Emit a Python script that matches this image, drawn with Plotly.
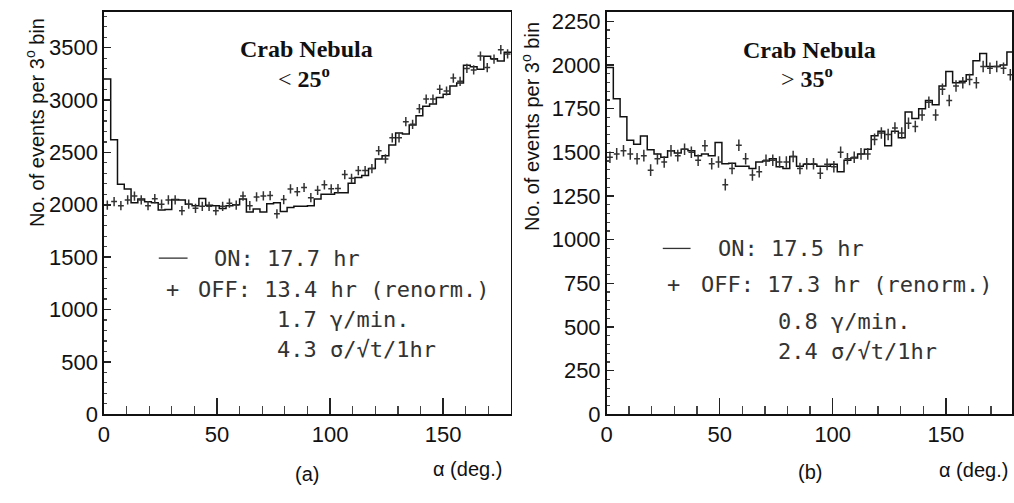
import numpy as np
import plotly.graph_objects as go

# ---------------- data ----------------
bin_width = 3
bin_edges = list(range(0, 181, bin_width))

on_a = [3200, 2620, 2195, 2150, 2020, 2055, 2030, 2020, 1950, 1955,
        2050, 2045, 2005, 1990, 2060, 1995, 1990, 1965, 1990, 2000,
        2055, 1930, 1960, 1930, 2010, 2020, 1935, 1975, 1985, 1985,
        1990, 2055, 2100, 2100, 2115, 2115, 2205, 2260, 2280, 2346,
        2438, 2469, 2571, 2685, 2676, 2762, 2849, 2941, 2963, 3025,
        3056, 3133, 3163, 3333, 3318, 3293, 3417, 3395, 3373, 3457]

off_a = [1997, 2031, 1991, 2046, 2083, 2046, 1991, 2058, 2006, 2046,
         2046, 1944, 2006, 1966, 1985, 1985, 1944, 1985, 2015, 1997,
         2083, 1991, 2075, 2085, 2088, 1914, 2050, 2151, 2125, 2165,
         2068, 2138, 2191, 2152, 2155, 2288, 2253, 2327, 2327, 2346,
         2516, 2438, 2639, 2639, 2793, 2768, 2917, 3009, 3009, 3102,
         3086, 3210, 3179, 3302, 3287, 3420, 3310, 3390, 3480, 3440]

on_b = [1985, 1806, 1704, 1569, 1546, 1593, 1515, 1491, 1472, 1509,
        1496, 1517, 1509, 1481, 1491, 1481, 1556, 1435, 1437, 1420,
        1420, 1407, 1444, 1450, 1463, 1417, 1407, 1476, 1420, 1431,
        1431, 1420, 1420, 1431, 1389, 1454, 1468, 1491, 1518, 1595,
        1620, 1537, 1620, 1583, 1731, 1694, 1750, 1796, 1772, 1880,
        1963, 1898, 1907, 1944, 2024, 2065, 1991, 1991, 2000, 2074]

off_b = [1472, 1491, 1509, 1491, 1463, 1481, 1398, 1463, 1444, 1509,
         1481, 1518, 1500, 1454, 1537, 1435, 1444, 1315, 1407, 1540,
         1463, 1370, 1389, 1454, 1454, 1444, 1444, 1476, 1407, 1435,
         1435, 1380, 1431, 1417, 1500, 1463, 1472, 1491, 1491, 1574,
         1611, 1602, 1639, 1611, 1667, 1648, 1713, 1787, 1713, 1861,
         1796, 1880, 1898, 1917, 1898, 1991, 1981, 1991, 1981, 1944]

err_a = 44
err_b = 33

yticks_a = [0, 500, 1000, 1500, 2000, 2500, 3000, 3500]
yticks_b = [0, 250, 500, 750, 1000, 1250, 1500, 1750, 2000, 2250]
xticks = [0, 50, 100, 150]

# ---------------- figure ----------------
W, H = 1014, 503


def px(x):
    return x / W


def py(y):
    return 1 - y / H


centers = [e + bin_width / 2 for e in bin_edges[:-1]]

fig = go.Figure()

for on, off, err, xa, ya in [(on_a, off_a, err_a, "x", "y"),
                              (on_b, off_b, err_b, "x2", "y2")]:
    fig.add_trace(go.Scatter(
        x=bin_edges, y=on + [on[-1]], mode="lines", line_shape="hv",
        line=dict(color="#111111", width=1.5), xaxis=xa, yaxis=ya,
        showlegend=False, hoverinfo="skip"))
    fig.add_trace(go.Scatter(
        x=centers, y=off, mode="markers",
        marker=dict(size=1, color="#333333"),
        error_x=dict(type="constant", value=1.3, width=0, thickness=1.5,
                     color="#333333"),
        error_y=dict(type="constant", value=err, width=0, thickness=1.5,
                     color="#333333"),
        xaxis=xa, yaxis=ya, showlegend=False, hoverinfo="skip"))

tickfont = dict(family="Liberation Sans, Arial, sans-serif", size=22,
                color="#111111")
ydom = [py(425), py(10)]

common_x = dict(showline=True, linecolor="#111111", linewidth=1.5,
                mirror=True, ticks="inside", ticklen=16, tickwidth=1.5,
                tickcolor="#222222", tickvals=xticks, showgrid=False,
                zeroline=False, tickfont=tickfont,
                minor=dict(tick0=0, dtick=10, ticks="inside", ticklen=8,
                           tickwidth=1.3, tickcolor="#444444",
                           showgrid=False))
common_y = dict(showline=True, linecolor="#111111", linewidth=1.5,
                mirror=True, ticks="inside", ticklen=7, tickwidth=1.5,
                tickcolor="#222222", showgrid=False, zeroline=False,
                tickfont=tickfont, domain=ydom)

fig.update_layout(
    width=W, height=H, autosize=False,
    margin=dict(l=0, r=0, t=0, b=0),
    paper_bgcolor="white", plot_bgcolor="white",
    xaxis=dict(domain=[px(98.7), px(509)], range=[0, 180], anchor="y",
               **common_x),
    yaxis=dict(range=[0, 3843], tickvals=yticks_a, anchor="x",
               minor=dict(tick0=0, dtick=100, ticks="inside", ticklen=3.5,
                          tickwidth=1.2, tickcolor="#444444",
                          showgrid=False),
               **common_y),
    xaxis2=dict(domain=[px(605.3), 1.0], range=[0, 179.25], anchor="y2",
                **common_x),
    yaxis2=dict(range=[0, 2305], tickvals=yticks_b, anchor="x2",
                minor=dict(tick0=0, dtick=50, ticks="inside", ticklen=3.5,
                           tickwidth=1.2, tickcolor="#444444",
                           showgrid=False),
                **common_y),
)

ann = []


def add_text(text, x, y, font, xanchor="center", textangle=0):
    ann.append(dict(text=text, x=px(x), y=py(y), xref="paper", yref="paper",
                    showarrow=False, xanchor=xanchor, yanchor="middle",
                    font=font, textangle=textangle))


sans = dict(family="Liberation Sans, Arial, sans-serif", size=20,
            color="#111111")
serif = dict(family="Liberation Serif, Times New Roman, serif", size=24,
             color="#111111")
mono = dict(family="DejaVu Sans Mono, monospace", size=22, color="#333333")

ytitle = "No. of events per 3<sup>o</sup> bin"
add_text(ytitle, 29, 124, sans, textangle=-90)
add_text(ytitle, 528, 128, sans, textangle=-90)

add_text("α (deg.)", 465, 481, sans)
add_text("α (deg.)", 975, 482, sans)
add_text("(a)", 303, 487, sans)
add_text("(b)", 810, 484, sans)

add_text("<b>Crab Nebula</b>", 303, 48, serif)
add_text("< <b>25<sup>o</sup></b>", 300, 77, serif)
add_text("<b>Crab Nebula</b>", 810, 49, serif)
add_text("> <b>35<sup>o</sup></b>", 807, 77, serif)

# legend-like text, panel (a)
add_text("ON: 17.7 hr", 208, 264, mono, xanchor="left")
add_text("+", 168, 296, mono)
add_text("OFF: 13.4 hr (renorm.)", 192, 296, mono, xanchor="left")
add_text("1.7 γ/min.", 271, 327, mono, xanchor="left")
add_text("4.3 σ/√t/1hr", 271, 358, mono, xanchor="left")

# legend-like text, panel (b)
add_text("ON: 17.5 hr", 716, 254, mono, xanchor="left")
add_text("+", 673, 291, mono)
add_text("OFF: 17.3 hr (renorm.)", 699, 291, mono, xanchor="left")
add_text("0.8 γ/min.", 776, 329, mono, xanchor="left")
add_text("2.4 σ/√t/1hr", 776, 360, mono, xanchor="left")

fig.update_layout(annotations=ann)

fig.add_shape(type="line", xref="paper", yref="paper",
              x0=px(154), x1=px(183), y0=py(264), y1=py(264),
              line=dict(color="#333333", width=1.3))
fig.add_shape(type="line", xref="paper", yref="paper",
              x0=px(662), x1=px(690), y0=py(254), y1=py(254),
              line=dict(color="#333333", width=1.3))

# remove the default page margin so the figure sits at the window origin
page_fix = ("document.body.style.margin='0';"
            "document.body.style.padding='0';"
            "document.documentElement.style.overflow='hidden';")

fig.write_html("out.html", post_script=page_fix,
               config={"displayModeBar": False, "staticPlot": True})
